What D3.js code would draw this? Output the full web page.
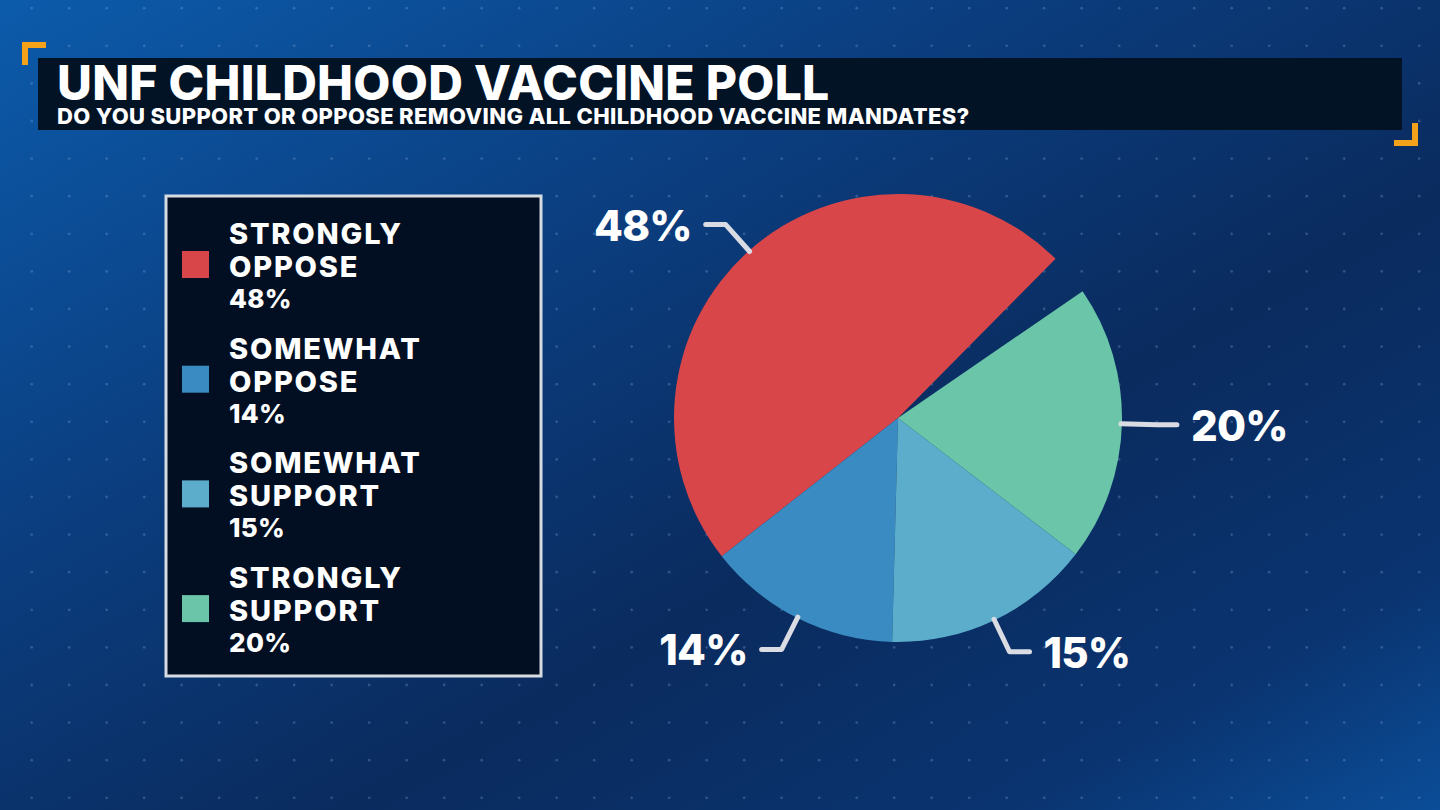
<!DOCTYPE html>
<html><head><meta charset="utf-8">
<script src="https://cdn.jsdelivr.net/npm/d3@7"></script>
<style>html,body{margin:0;padding:0;background:#0a2d60;overflow:hidden}</style>
</head><body><svg id="c" width="1440" height="810"></svg>
<script>
const categories = ["STRONGLY OPPOSE","SOMEWHAT OPPOSE","SOMEWHAT SUPPORT","STRONGLY SUPPORT"];
const labelLines = [["STRONGLY","OPPOSE"],["SOMEWHAT","OPPOSE"],["SOMEWHAT","SUPPORT"],["STRONGLY","SUPPORT"]];
const values = [48,14,15,20];
const colors = ["#d9464a","#3a8bc1","#5badcb","#6bc5a8"];
const title = "UNF CHILDHOOD VACCINE POLL";
const subtitle = "DO YOU SUPPORT OR OPPOSE REMOVING ALL CHILDHOOD VACCINE MANDATES?";

const W = 1440, H = 810;
const svg = d3.select("#c");
const defs = svg.append("defs");
const lg = defs.append("linearGradient").attr("id","bg").attr("x1","0").attr("y1","0").attr("x2","1").attr("y2","1");
[[0,"#0c5bab"],[0.35,"#0b3d7e"],[0.62,"#0a2b5e"],[0.85,"#0a3470"],[1,"#0b4d98"]].forEach(s=>lg.append("stop").attr("offset",s[0]).attr("stop-color",s[1]));
svg.append("rect").attr("width",W).attr("height",H).attr("fill","url(#bg)");

// dot grid
const dots = [];
for (let i=0;i<40;i++) for (let j=0;j<22;j++) dots.push([31.7+37.5*i, 8.2+37.6*j]);
svg.append("g").selectAll("circle").data(dots).join("circle")
  .attr("cx",d=>d[0]).attr("cy",d=>d[1]).attr("r",1.4).attr("fill","rgba(150,180,225,0.28)");

const font = "Inter, 'Noto Sans', sans-serif";

// title box
svg.append("rect").attr("x",38).attr("y",58).attr("width",1364).attr("height",72).attr("fill","#021326");
svg.append("text").attr("x",57).attr("y",100).attr("fill","#fff").attr("font-family",font)
  .attr("font-weight",800).attr("font-size",48).attr("letter-spacing",0.3).text(title);
svg.append("text").attr("x",57).attr("y",124).attr("fill","#fff").attr("font-family",font)
  .attr("font-weight",800).attr("font-size",22).attr("letter-spacing",0.35).text(subtitle);
// brackets
const orange = "#f5a21b";
svg.append("path").attr("d","M25,65 V45 H46").attr("fill","none").attr("stroke",orange).attr("stroke-width",6);
svg.append("path").attr("d","M1394,143 H1415 V123").attr("fill","none").attr("stroke",orange).attr("stroke-width",6);

// legend
svg.append("rect").attr("x",166).attr("y",196).attr("width",375).attr("height",480)
  .attr("fill","#020f22").attr("stroke","#d7dce3").attr("stroke-width",3);
const lgRows = svg.append("g").selectAll("g").data(categories).join("g")
  .attr("transform",(d,i)=>`translate(0,${244+114.7*i})`);
lgRows.append("rect").attr("x",182).attr("y",7).attr("width",27).attr("height",27).attr("fill",(d,i)=>colors[i]);
lgRows.each(function(d,i){
  const g = d3.select(this);
  labelLines[i].forEach((t,k)=>g.append("text").attr("x",229).attr("y",33*k).attr("fill","#fff")
    .attr("font-family",font).attr("font-weight",800).attr("font-size",29).attr("letter-spacing",1.8).text(t));
  g.append("text").attr("x",229).attr("y",64).attr("fill","#fff").attr("font-family",font)
    .attr("font-weight",800).attr("font-size",26).attr("letter-spacing",0.3).text(values[i]+"%");
});

// pie
const cx = 898, cy = 418, R = 224;
const rest = 100 - d3.sum(values);
const pieData = values.map((v,i)=>({v,i})).concat([{v:rest,i:-1}]);
const a0 = 44.7*Math.PI/180;
const pie = d3.pie().sort(null).value(d=>d.v).startAngle(a0).endAngle(a0-2*Math.PI);
const arcs = pie(pieData).filter(d=>d.data.i>=0);
const arc = d3.arc().innerRadius(0).outerRadius(R);
const pg = svg.append("g").attr("transform",`translate(${cx},${cy})`);
pg.selectAll("path").data(arcs).join("path").attr("d",arc).attr("fill",d=>colors[d.data.i]);

const pt = (a,r)=>[r*Math.sin(a), -r*Math.cos(a)];
arcs.forEach(d=>{
  const a = (d.startAngle+d.endAngle)/2;
  const s = Math.sin(a) >= 0 ? 1 : -1;
  const p0 = pt(a,R-1), p1 = pt(a,259), p2 = [p1[0]+20*s, p1[1]];
  pg.append("path").attr("d",d3.line()([p0,p1,p2])).attr("fill","none").attr("stroke","#d9dde3")
    .attr("stroke-width",5).attr("stroke-linecap","round").attr("stroke-linejoin","round");
  pg.append("text").attr("x",p2[0]+14*s).attr("y",p2[1]+16).attr("text-anchor",s>0?"start":"end")
    .attr("fill","#fff").attr("font-family",font).attr("font-weight",800).attr("font-size",42)
    .attr("letter-spacing",-0.8).text(values[d.data.i]+"%");
});
</script></body></html>
